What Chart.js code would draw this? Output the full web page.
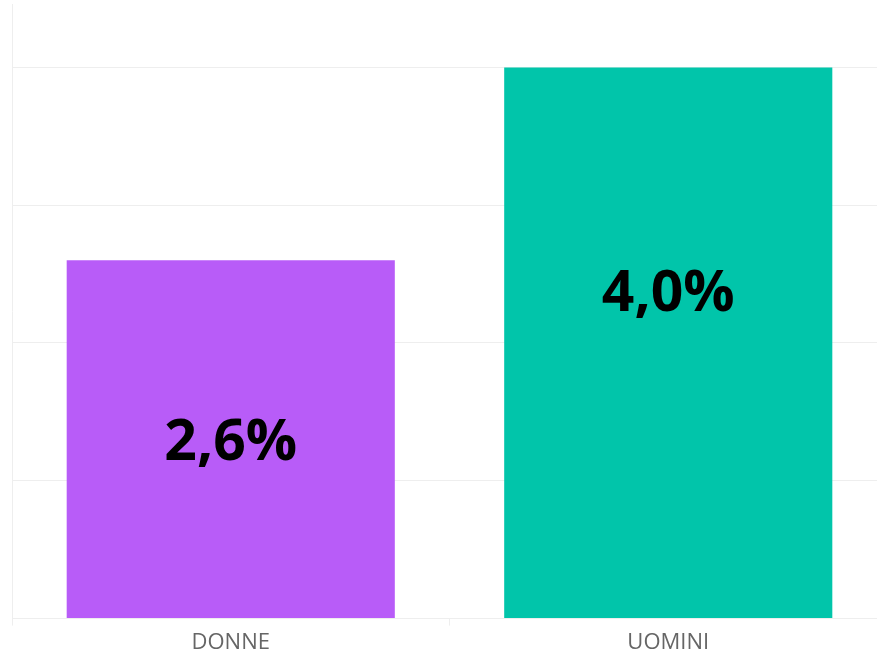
<!DOCTYPE html>
<html>
<head>
<meta charset="utf-8">
<script src="https://cdn.jsdelivr.net/npm/chart.js@4"></script>
<style>
  html, body { margin: 0; padding: 0; background: #fff; overflow: hidden; }
  #wrap { width: 877px; height: 653px; overflow: hidden; }
</style>
</head>
<body>
<div id="wrap"><canvas id="myChart" width="887" height="660"></canvas></div>
<script>
// categories and values (percent)
const categories = ['DONNE', 'UOMINI'];
const values = [2.6, 4.0];
const barColors = ['#b85cf8', '#01c5aa'];
// where the value label sits, in axis units
const labelAt = [1.27, 2.35];

const fmt = v => v.toFixed(1).replace('.', ',') + '%';

const insideLabels = {
  id: 'insideLabels',
  afterDatasetsDraw(chart) {
    const ctx = chart.ctx;
    const meta = chart.getDatasetMeta(0);
    const y = chart.scales.y;
    ctx.save();
    ctx.font = 'bold 57px "Open Sans"';
    ctx.fillStyle = '#000';
    ctx.textAlign = 'center';
    ctx.textBaseline = 'middle';
    meta.data.forEach((bar, i) => {
      ctx.fillText(fmt(values[i]), bar.x, y.getPixelForValue(labelAt[i]));
    });
    ctx.restore();
  }
};

new Chart(document.getElementById('myChart'), {
  type: 'bar',
  data: {
    labels: categories,
    datasets: [{
      data: values,
      backgroundColor: barColors,
      categoryPercentage: 0.75,
      barPercentage: 1
    }]
  },
  options: {
    responsive: false,
    animation: false,
    layout: { padding: { left: 12, top: 4, right: 0, bottom: 0 } },
    plugins: { legend: { display: false }, tooltip: { enabled: false } },
    scales: {
      x: {
        grid: { offset: true, drawOnChartArea: false, tickLength: 7, color: '#eeeeee' },
        border: { display: false },
        ticks: { color: '#666', font: { family: '"Open Sans"', size: 22 }, padding: 4 }
      },
      y: {
        min: 0,
        max: 4.46,
        ticks: { display: false, stepSize: 1 },
        grid: {
          drawTicks: false,
          color: c => Number.isInteger(c.tick.value) ? '#eeeeee' : 'rgba(0,0,0,0)'
        },
        border: { display: true, color: '#eeeeee' }
      }
    }
  },
  plugins: [insideLabels]
});
</script>
</body>
</html>
